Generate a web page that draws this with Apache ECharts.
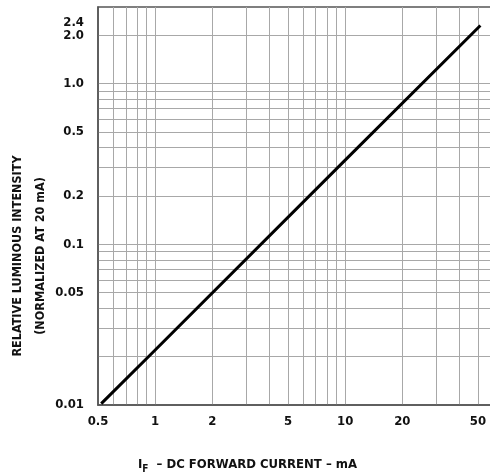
<!DOCTYPE html>
<html>
<head>
<meta charset="utf-8">
<script src="https://cdn.jsdelivr.net/npm/echarts@6/dist/echarts.min.js"></script>
<style>
html,body{margin:0;padding:0;background:#fff;}
#chart{width:490px;height:476px;}
</style>
</head>
<body>
<div id="chart"></div>
<script>
// Data
const forwardCurrent = [0.52, 1, 10, 51.5];          // mA
const relativeIntensity = [0.0102, 0.022, 0.334, 2.3];

// Tick labels and grid values
const xTickValues = [0.5, 1, 2, 5, 10, 20, 50];
const xTickLabels = ['0.5', '1', '2', '5', '10', '20', '50'];
const xGridValues = [0.6, 0.7, 0.8, 0.9, 1, 2, 3, 4, 5, 6, 7, 8, 9, 10, 20, 30, 40, 50];

const yTickValues = [0.01, 0.05, 0.1, 0.2, 0.5, 1, 2];
const yTickLabels = ['0.01', '0.05', '0.1', '0.2', '0.5', '1.0', '2.0'];
const yExtraTickValues = [2.4];
const yExtraTickLabels = ['2.4'];
const yGridValues = [0.02, 0.03, 0.04, 0.05, 0.06, 0.07, 0.08, 0.09, 0.1, 0.2, 0.3, 0.4, 0.5, 0.6, 0.7, 0.8, 0.9, 1, 2];

function labelFor(values, labels) {
  return function (v) {
    for (let i = 0; i < values.length; i++) {
      if (Math.abs(v - values[i]) / values[i] < 1e-6) return labels[i];
    }
    return '';
  };
}

const FONT = '"DejaVu Sans Condensed", "Liberation Sans Narrow", sans-serif';
const Y_MIN = 0.01, Y_MAX = 3;

const labelStyle = {color: '#111', fontFamily: FONT, fontWeight: 'bold', fontSize: 13, hideOverlap: false};

const chart = echarts.init(document.getElementById('chart'), null, {renderer: 'canvas'});
chart.setOption({
  animation: false,
  backgroundColor: '#fff',
  grid: {
    left: 98, top: 7, width: 395, height: 398,
    containLabel: false, outerBoundsMode: 'none',
    show: true, borderColor: '#555', borderWidth: 1.5, backgroundColor: 'transparent'
  },
  xAxis: {
    type: 'log', logBase: 10, min: 0.5, max: 60,
    axisLine: {show: true, lineStyle: {color: '#555', width: 1.5}},
    axisTick: {show: false, customValues: xGridValues},
    splitLine: {show: true, lineStyle: {color: '#a8a8a8', width: 1}},
    minorTick: {show: false}, minorSplitLine: {show: false},
    axisLabel: Object.assign({
      customValues: xTickValues, formatter: labelFor(xTickValues, xTickLabels), margin: 10
    }, labelStyle),
    name: '{i|I}{s|F}{t|  – DC FORWARD CURRENT – mA}',
    nameLocation: 'middle', nameGap: 51,
    nameTextStyle: {
      padding: [0, 96, 0, 0],
      rich: {
        i: {fontFamily: FONT, fontWeight: 'bold', fontSize: 13, color: '#111'},
        s: {fontFamily: FONT, fontWeight: 'bold', fontSize: 10, color: '#111', verticalAlign: 'bottom', padding: [8, 0, 0, 0]},
        t: {fontFamily: FONT, fontWeight: 'bold', fontSize: 13, color: '#111'}
      }
    }
  },
  yAxis: [{
    type: 'log', logBase: 10, min: Y_MIN, max: Y_MAX,
    axisLine: {show: true, lineStyle: {color: '#555', width: 1.5}},
    axisTick: {show: false, customValues: yGridValues},
    splitLine: {show: true, lineStyle: {color: '#a8a8a8', width: 1}},
    minorTick: {show: false}, minorSplitLine: {show: false},
    axisLabel: Object.assign({
      customValues: yTickValues, formatter: labelFor(yTickValues, yTickLabels), margin: 14
    }, labelStyle),
    name: 'RELATIVE LUMINOUS INTENSITY\n(NORMALIZED AT 20 mA)',
    nameLocation: 'middle', nameGap: 46, nameRotate: 90, nameMoveOverlap: false,
    nameTextStyle: {
      fontFamily: FONT, fontWeight: 'bold', fontSize: 12.5, color: '#111', lineHeight: 23,
      align: 'center', padding: [0, 100, 0, 0]
    }
  }, {
    type: 'log', logBase: 10, min: Y_MIN, max: Y_MAX, position: 'left', offset: 0,
    axisLine: {show: false}, splitLine: {show: false},
    axisTick: {show: false, customValues: yExtraTickValues},
    minorTick: {show: false}, minorSplitLine: {show: false},
    axisLabel: Object.assign({
      customValues: yExtraTickValues, formatter: labelFor(yExtraTickValues, yExtraTickLabels), margin: 14
    }, labelStyle)
  }],
  series: [{
    type: 'line',
    data: forwardCurrent.map((x, i) => [x, relativeIntensity[i]]),
    symbol: 'none',
    lineStyle: {color: '#000', width: 3},
    clip: false
  }]
});
</script>
</body>
</html>
